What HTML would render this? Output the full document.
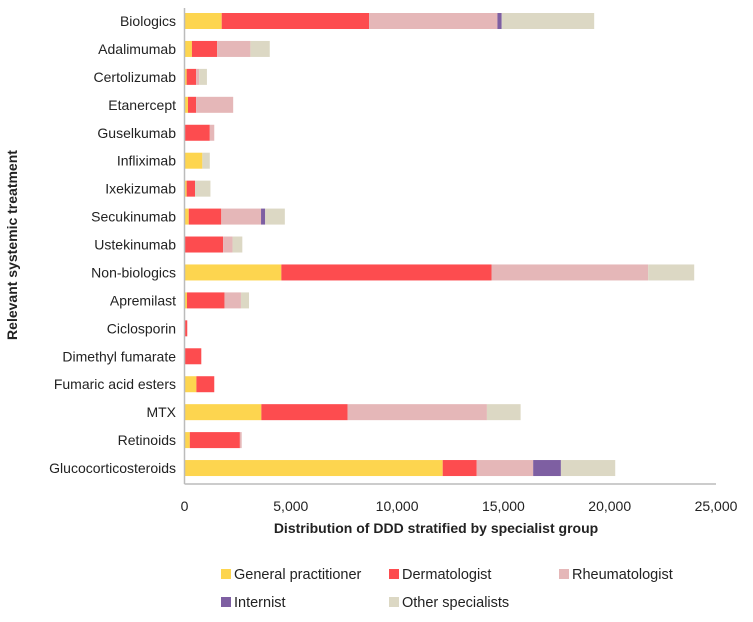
<!DOCTYPE html>
<html><head><meta charset="utf-8"><style>
body{margin:0;background:#fff;font-family:"Liberation Sans",sans-serif;}
svg text{font-family:"Liberation Sans",sans-serif;fill:#222;}
</style></head><body>
<svg id="chart" width="753" height="617">
<g id="plot"></g>
</svg>
<script>
const categories=["Biologics","Adalimumab","Certolizumab","Etanercept","Guselkumab","Infliximab","Ixekizumab","Secukinumab","Ustekinumab","Non-biologics","Apremilast","Ciclosporin","Dimethyl fumarate","Fumaric acid esters","MTX","Retinoids","Glucocorticosteroids"];
const seriesNames=["General practitioner","Dermatologist","Rheumatologist","Internist","Other specialists"];
const seriesColors=["#fdd54f","#fd4c4f","#e5b7b8","#7e5fa2","#dcd8c4"];
const gp=[1750,350,100,165,0,840,100,200,0,4555,115,0,0,560,3615,250,12145];
const derm=[6930,1185,445,380,1190,0,395,1530,1815,9885,1765,130,790,840,4055,2355,1600];
const rheum=[6040,1565,145,1745,210,0,0,1870,445,7370,775,0,0,0,6555,85,2655];
const internist=[200,0,0,0,0,0,0,195,0,0,0,0,0,0,0,0,1305];
const other=[4350,910,365,0,0,350,725,925,460,2165,380,0,0,0,1585,0,2555];
const ticks=[0,5000,10000,15000,20000,25000];
const tickLabels=["0","5,000","10,000","15,000","20,000","25,000"];
const series=[gp,derm,rheum,internist,other];
const NS="http://www.w3.org/2000/svg";
const svg=document.getElementById('chart');
const X0=184.5,X1=716,xMax=25000,Y0=21,STEP=27.94,BH=16;
const xs=v=>X0+v/xMax*(X1-X0);
const ys=i=>Y0+i*STEP;
function mk(tag,attrs,parent){const e=document.createElementNS(NS,tag);for(const k in attrs)e.setAttribute(k,attrs[k]);(parent||svg).appendChild(e);return e;}
categories.forEach((c,i)=>{
  let acc=0;
  series.forEach((s,j)=>{
    const v=s[i];
    if(v>0){
      const r=mk('rect',{x:xs(acc),y:ys(i)-BH/2,width:xs(acc+v)-xs(acc),height:BH,fill:seriesColors[j]});
      
      
    }
    acc+=v;
  });
  const t=mk('text',{x:176,y:ys(i)+5,'text-anchor':'end','font-size':14});
  t.textContent=c;
  
  
});
const ax=mk('line',{x1:X0,y1:8,x2:X0,y2:484,stroke:'#bbb','stroke-width':1.5});


const bx=mk('line',{x1:X0,y1:484,x2:X1,y2:484,stroke:'#bbb','stroke-width':1.5});


ticks.forEach((v,k)=>{
  const t=mk('text',{x:xs(v),y:511,'text-anchor':'middle','font-size':14});
  t.textContent=tickLabels[k];
  
  
});
const xt=mk('text',{x:436,y:533,'text-anchor':'middle','font-size':14,'font-weight':'bold'});
xt.textContent="Distribution of DDD stratified by specialist group";


const yt=mk('text',{x:0,y:0,'text-anchor':'middle','font-size':14,'font-weight':'bold',transform:'translate(17,245) rotate(-90)'});
yt.textContent="Relevant systemic treatment";


const legPos=[[221,574],[389,574],[559,574],[221,602],[389,602]];
seriesNames.forEach((n,j)=>{
  const g=mk('g',{});
  
  
  mk('rect',{x:legPos[j][0],y:legPos[j][1]-5,width:10,height:10,fill:seriesColors[j]},g);
  const t=mk('text',{x:legPos[j][0]+13,y:legPos[j][1]+5,'font-size':14.5},g);
  t.textContent=n;
});
</script>
</body></html>
